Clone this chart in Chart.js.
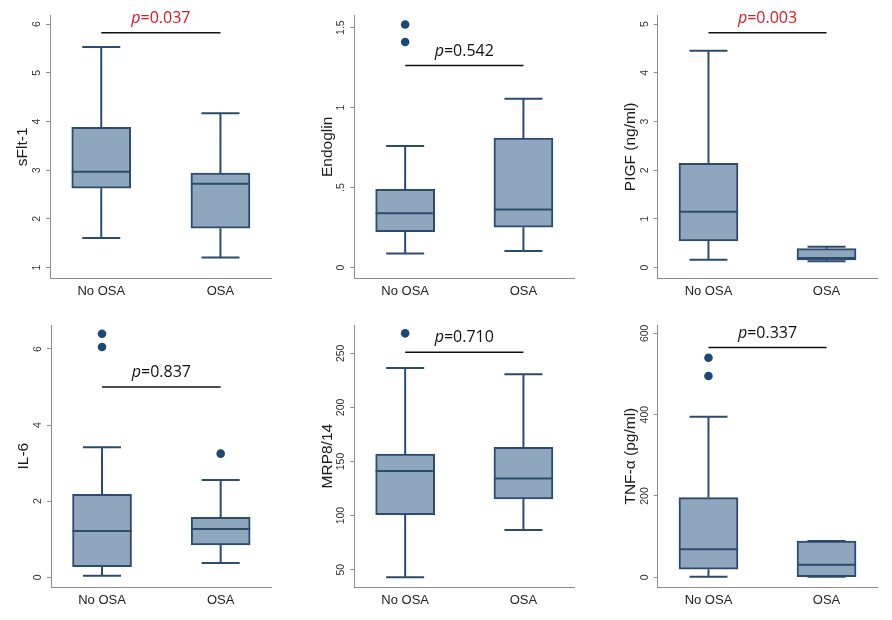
<!DOCTYPE html>
<html lang="en">
<head>
<meta charset="UTF-8" />
<title>OSA box plots</title>
<script src="https://cdn.jsdelivr.net/npm/chart.js@4.4.1/dist/chart.umd.min.js"></script>
<style>
  body { margin: 0; background: #fff; }
  #wrap { position: relative; width: 892px; height: 620px; }
  canvas { position: absolute; }
</style>
</head>
<body>
<div id="wrap"></div>
<script>
const groups = ["No OSA", "OSA"];

// each box: [lower whisker, q1, median, q3, upper whisker], one per group
const sfltBoxes = [[1.61, 2.63, 2.97, 3.88, 5.53], [1.21, 1.81, 2.72, 2.94, 4.17]];
const sfltOutliers = [[], []];
const sfltTicks = [1, 2, 3, 4, 5, 6];
const sfltTickLabels = ["1", "2", "3", "4", "5", "6"];

const endoglinBoxes = [[0.088, 0.225, 0.34, 0.49, 0.76], [0.104, 0.253, 0.363, 0.81, 1.056]];
const endoglinOutliers = [[1.41, 1.52], []];
const endoglinTicks = [0, 0.5, 1, 1.5];
const endoglinTickLabels = ["0", ".5", "1", "1.5"];

const pigfBoxes = [[0.165, 0.55, 1.15, 2.14, 4.45], [0.13, 0.16, 0.2, 0.39, 0.43]];
const pigfOutliers = [[], []];
const pigfTicks = [0, 1, 2, 3, 4, 5];
const pigfTickLabels = ["0", "1", "2", "3", "4", "5"];

const il6Boxes = [[0.04, 0.28, 1.215, 2.18, 3.42], [0.375, 0.85, 1.27, 1.575, 2.555]];
const il6Outliers = [[6.05, 6.4], [3.25]];
const il6Ticks = [0, 2, 4, 6];
const il6TickLabels = ["0", "2", "4", "6"];

const mrpBoxes = [[42.9, 100.9, 141.3, 156.8, 236.4], [86.7, 115.4, 134.3, 163, 230.6]];
const mrpOutliers = [[268.5], []];
const mrpTicks = [50, 100, 150, 200, 250];
const mrpTickLabels = ["50", "100", "150", "200", "250"];

const tnfBoxes = [[1.5, 20, 69, 196, 395], [1.5, 1.5, 31, 89, 89]];
const tnfOutliers = [[495, 540], []];
const tnfTicks = [0, 200, 400, 600];
const tnfTickLabels = ["0", "200", "400", "600"];

const pValues = ["0.037", "0.542", "0.003", "0.837", "0.710", "0.337"];
const pLineAt = [5.82, 1.263, 4.82, 5.0, 251, 565];

// layout of the six panels
const panels = [
  { title: "sFlt-1", boxes: sfltBoxes, out: sfltOutliers, ticks: sfltTicks, labels: sfltTickLabels,
    min: 0.774, max: 6.185, left: 0, top: 0, w: 300, axisX: 50, plotRight: 271.7, plotTop: 15, plotBottom: 278.7, red: true },
  { title: "Endoglin", boxes: endoglinBoxes, out: endoglinOutliers, ticks: endoglinTicks, labels: endoglinTickLabels,
    min: -0.069, max: 1.579, left: 295, top: 0, w: 300, axisX: 59.3, plotRight: 279.3, plotTop: 15, plotBottom: 278.7, red: false },
  { title: "PIGF (ng/ml)", boxes: pigfBoxes, out: pigfOutliers, ticks: pigfTicks, labels: pigfTickLabels,
    min: -0.226, max: 5.185, left: 590, top: 0, w: 302, axisX: 67.7, plotRight: 287.3, plotTop: 15, plotBottom: 278.7, red: true },
  { title: "IL-6", boxes: il6Boxes, out: il6Outliers, ticks: il6Ticks, labels: il6TickLabels,
    min: -0.263, max: 6.63, left: 0, top: 310, w: 300, axisX: 51, plotRight: 271.7, plotTop: 15, plotBottom: 277.3, red: false },
  { title: "MRP8/14", boxes: mrpBoxes, out: mrpOutliers, ticks: mrpTicks, labels: mrpTickLabels,
    min: 33.7, max: 276.2, left: 295, top: 310, w: 300, axisX: 59.3, plotRight: 279.3, plotTop: 15, plotBottom: 277.3, red: false },
  { title: "TNF-α (pg/ml)", boxes: tnfBoxes, out: tnfOutliers, ticks: tnfTicks, labels: tnfTickLabels,
    min: -24.6, max: 620.4, left: 590, top: 310, w: 302, axisX: 67.7, plotRight: 287.3, plotTop: 15, plotBottom: 277.3, red: false }
];

const boxFill = "#8fa6bf";
const boxLine = "#2d4b6d";
const dotColor = "#1d4876";
const axisColor = "#8c8c8c";
const sans = '"Liberation Sans", Arial, sans-serif';

function boxPlugin(pn, idx) {
  return {
    id: "boxExtras" + idx,
    afterDatasetsDraw(chart) {
      const { ctx, scales: { x, y } } = chart;
      ctx.save();
      ctx.strokeStyle = boxLine;
      ctx.lineWidth = 2;
      pn.boxes.forEach((b, i) => {
        const cx = x.getPixelForValue(i + 1);
        const [lo, q1, med, q3, hi] = b.map(v => y.getPixelForValue(v));
        ctx.beginPath();
        ctx.moveTo(cx, q3); ctx.lineTo(cx, hi);
        ctx.moveTo(cx, q1); ctx.lineTo(cx, lo);
        ctx.moveTo(cx - 19, hi); ctx.lineTo(cx + 19, hi);
        ctx.moveTo(cx - 19, lo); ctx.lineTo(cx + 19, lo);
        ctx.moveTo(cx - 29.5, med); ctx.lineTo(cx + 29.5, med);
        ctx.stroke();
      });

      // significance bar and p value
      const x1 = x.getPixelForValue(1), x2 = x.getPixelForValue(2);
      const py = y.getPixelForValue(pLineAt[idx]);
      ctx.strokeStyle = "#111";
      ctx.lineWidth = 1.5;
      ctx.beginPath();
      ctx.moveTo(x1, py); ctx.lineTo(x2, py);
      ctx.stroke();

      const rest = "=" + pValues[idx];
      ctx.font = 'italic 16px "Open Sans"';
      const w1 = ctx.measureText("p").width;
      ctx.font = '16px "Open Sans"';
      const w2 = ctx.measureText(rest).width;
      const sx = (x1 + x2) / 2 - (w1 + w2) / 2;
      ctx.fillStyle = pn.red ? "#e8141c" : "#111";
      ctx.textAlign = "left";
      ctx.textBaseline = "alphabetic";
      ctx.font = 'italic 16px "Open Sans"';
      ctx.fillText("p", sx, py - 10);
      ctx.font = '16px "Open Sans"';
      ctx.fillText(rest, sx + w1, py - 10);

      // vertical tick labels, Stata style
      ctx.fillStyle = "#333";
      ctx.font = "10.5px " + sans;
      ctx.textAlign = "center";
      ctx.textBaseline = "middle";
      pn.ticks.forEach((v, i) => {
        ctx.save();
        ctx.translate(y.left + y.width - 13, y.getPixelForValue(v));
        ctx.rotate(-Math.PI / 2);
        ctx.fillText(pn.labels[i], 0, 0);
        ctx.restore();
      });
      ctx.restore();
    }
  };
}

const wrap = document.getElementById("wrap");

panels.forEach((pn, idx) => {
  const cv = document.createElement("canvas");
  cv.width = pn.w;
  cv.height = 310;
  cv.style.left = pn.left + "px";
  cv.style.top = pn.top + "px";
  wrap.appendChild(cv);

  new Chart(cv, {
    type: "bar",
    data: {
      datasets: [
        {
          type: "bar",
          data: pn.boxes.map((b, i) => ({ x: i + 1, y: [b[1], b[3]] })),
          backgroundColor: boxFill,
          borderColor: boxLine,
          borderWidth: 2,
          borderSkipped: false,
          barThickness: 59
        },
        {
          type: "scatter",
          data: pn.out.flatMap((arr, i) => arr.map(v => ({ x: i + 1, y: v }))),
          backgroundColor: dotColor,
          borderWidth: 0,
          pointRadius: 4.3
        }
      ]
    },
    options: {
      responsive: false,
      animation: false,
      events: [],
      layout: { padding: { top: pn.plotTop, right: pn.w - pn.plotRight, left: 0, bottom: 0 } },
      plugins: { legend: { display: false }, tooltip: { enabled: false } },
      scales: {
        x: {
          type: "linear",
          min: 0.57,
          max: 2.43,
          offset: false,
          afterBuildTicks: s => { s.ticks = [{ value: 1 }, { value: 2 }]; },
          afterFit: s => { s.height = 310 - pn.plotBottom; },
          grid: { display: false },
          border: { display: true, color: axisColor, width: 1 },
          ticks: {
            callback: v => groups[v - 1],
            font: { family: sans, size: 13 },
            color: "#222",
            padding: -3,
            maxRotation: 0,
            autoSkip: false
          }
        },
        y: {
          type: "linear",
          min: pn.min,
          max: pn.max,
          afterBuildTicks: s => { s.ticks = pn.ticks.map(v => ({ value: v })); },
          afterFit: s => { s.width = pn.axisX; },
          grid: { drawOnChartArea: false, drawTicks: true, tickLength: 4, color: axisColor },
          border: { display: true, color: axisColor, width: 1 },
          ticks: { display: false },
          title: {
            display: true,
            text: pn.title,
            color: "#1a1a1a",
            font: { family: sans, size: 15.5, lineHeight: 1.2 },
            padding: { top: pn.axisX - 36.3, bottom: 0 }
          }
        }
      }
    },
    plugins: [boxPlugin(pn, idx)]
  });
});
</script>
</body>
</html>
